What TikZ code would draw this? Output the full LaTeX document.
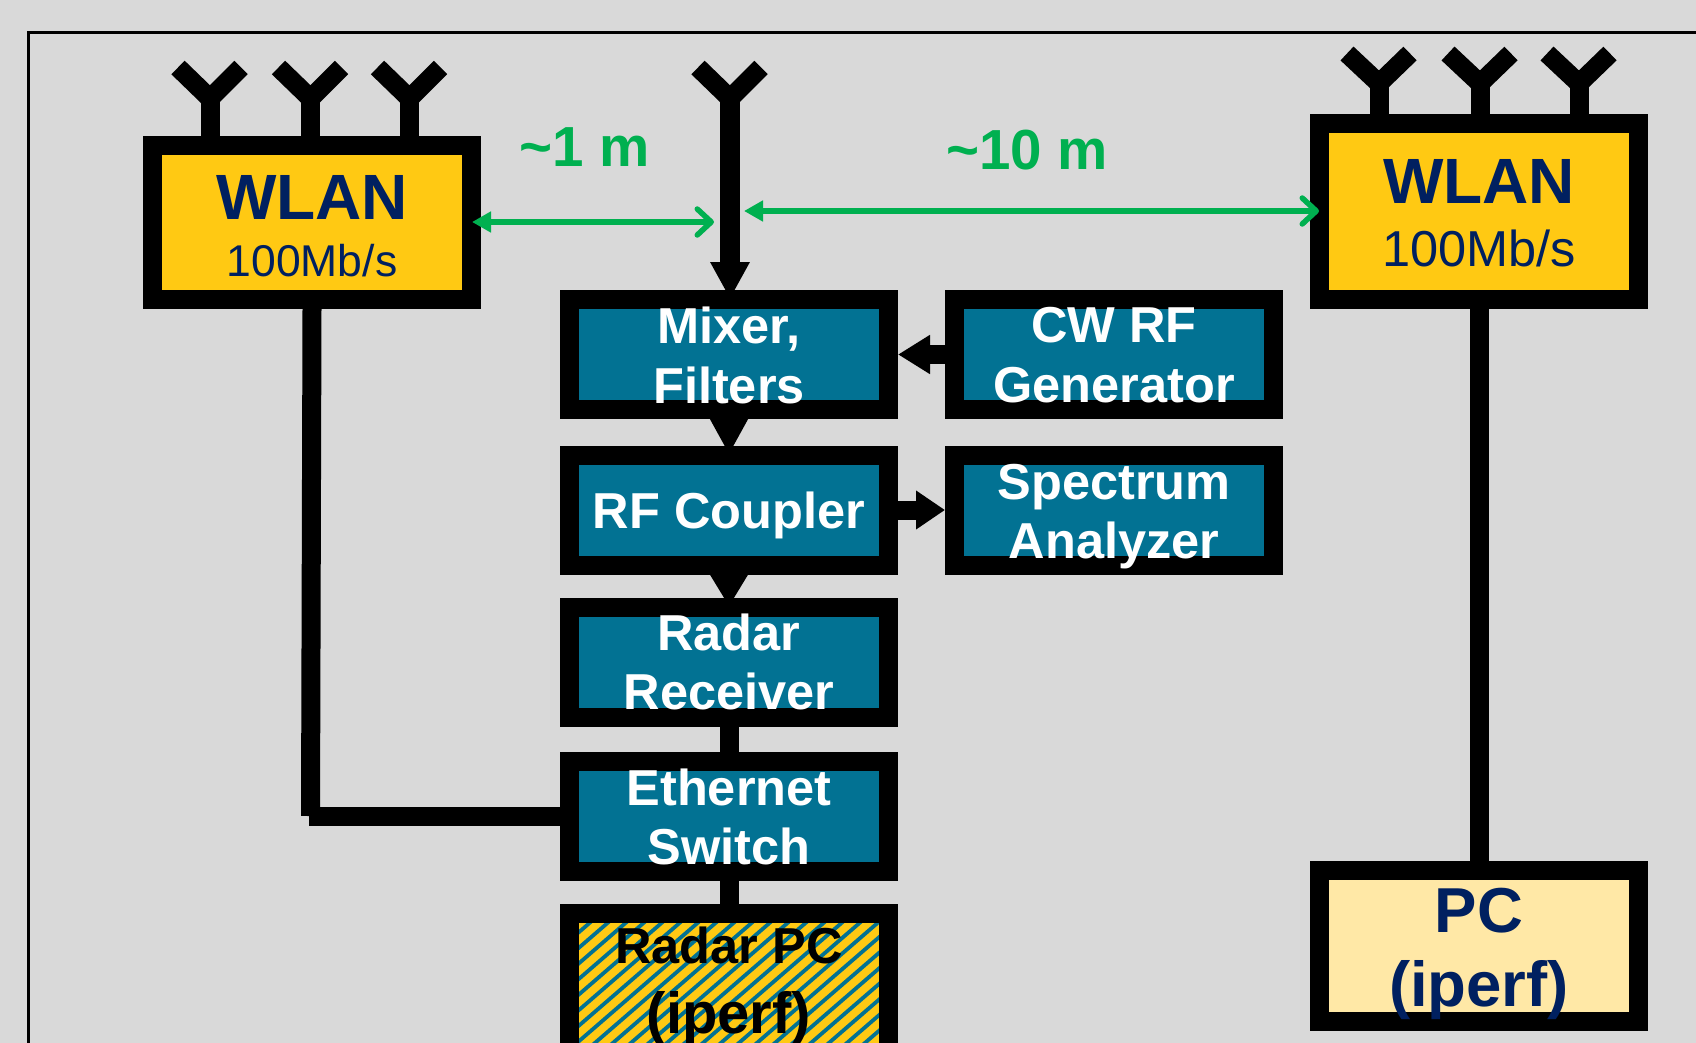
\documentclass[tikz,border=0pt]{standalone}
\usepackage{fontspec}
\setmainfont{Liberation Sans}
\usetikzlibrary{arrows.meta}
\definecolor{bggrey}{HTML}{D9D9D9}
\definecolor{wlanyellow}{HTML}{FFC913}
\definecolor{blockteal}{HTML}{027293}
\definecolor{pccream}{HTML}{FFE8A6}
\definecolor{navytext}{HTML}{002060}
\definecolor{rangegreen}{HTML}{00B050}
\newcommand{\fsz}[1]{\fontsize{#1}{59}\selectfont}
\newcommand{\fszb}[2]{\fontsize{#1}{#2}\selectfont}
\newcommand{\twolines}[2]{\setlength{\tabcolsep}{0pt}\begin{tabular}[t]{@{}c@{}}#1\\#2\end{tabular}}
\tikzset{
  x=1pt,y=-1pt,
  blockbox/.style={draw=black,line width=19,rectangle,inner sep=0,minimum width=319,minimum height=110,fill=blockteal},
  wlanbox/.style={blockbox,fill=wlanyellow},
  antenna/.style={draw=black,line width=19,miter limit=10},
  link/.style={draw=black,line width=19},
  headlink/.style={draw=black,line width=19,-{Triangle[length=#1,width=37]}},
  headlink/.default=30,
  rangearrow/.style={draw=rangegreen,line width=5.5,{Triangle[length=19,width=20]}-{Straight Barb[round,length=14,width=26,line width=5.5]}},
  labelwhite/.style={anchor=base,inner sep=0,text=white,font=\fsz{50.5}\bfseries},
  labelnavy/.style={anchor=base,inner sep=0,text=navytext},
  labelgreen/.style={anchor=base,inner sep=0,text=rangegreen,font=\fsz{56.5}\bfseries},
}
\begin{document}
\begin{tikzpicture}
\useasboundingbox (0,0) rectangle (1696,1043);
\fill[bggrey] (0,0) rectangle (1696,1043);
\draw[black,line width=3] (28.5,32.5) rectangle (1800,1200);

% boxes
\node[wlanbox,minimum height=154] (wlanA) at (312,222.5) {};
\node[wlanbox,minimum height=176] (wlanB) at (1479,211.5) {};
\node[blockbox] (mixer) at (729,354.5) {};
\node[blockbox] (coupler) at (729,510) {};
\node[blockbox] (receiver) at (729,662) {};
\node[blockbox] (switch) at (729,816) {};
\node[blockbox] (cwgen) at (1114,354.5) {};
\node[blockbox] (analyzer) at (1114,510) {};
\node[blockbox,minimum height=151,fill=pccream] (pc) at (1479,946) {};
\node[blockbox,minimum height=167,fill=wlanyellow,
  path picture={
    \foreach \k in {-30,...,40}{
      \draw[blockteal,line width=3.8]
        ([xshift=\k*18]path picture bounding box.south west) -- ++(260,-225);
    }
  }] (radarpc) at (729,997) {};

% antennas
\foreach \n/\px/\py/\tipdy in {a/210/98.5/31,b/310.5/98.5/31,c/409.5/98.5/31,d/730/98.5/31,e/1379/83.5/30,f/1480/83.5/30,g/1579/83.5/30}{
  \coordinate (\n J) at (\px,\py);
  \coordinate (\n L) at (\px-32,\py-\tipdy);
  \coordinate (\n R) at (\px+31,\py-\tipdy);
  \draw[antenna] (\n L) -- (\n J) -- (\n R);
}
\draw[link] (aJ) -- (aJ |- wlanA.north);
\draw[link] (bJ) -- (bJ |- wlanA.north);
\draw[link] (cJ) -- (cJ |- wlanA.north);
\draw[link] (eJ) -- (eJ |- wlanB.north);
\draw[link] (fJ) -- (fJ |- wlanB.north);
\draw[link] (gJ) -- (gJ |- wlanB.north);

% connectors
\draw[headlink=37,line width=20,shorten >=-9] (dJ) -- (dJ |- mixer.north);
\draw[headlink=37,shorten >=-9] (mixer.south) -- (coupler.north);
\draw[headlink=33,shorten >=-9] (coupler.south) -- (receiver.north);
\draw[link] (receiver.south) -- (switch.north);
\draw[link] (switch.south) -- (radarpc.north);
\draw[headlink=32] (cwgen.west) -- (mixer.east);
\draw[headlink=29] (coupler.east) -- (analyzer.west);
\coordinate (elbowA) at (310.5,816);
\coordinate (elbowB) at (309,816);
\draw[link] (wlanA.south) -- (elbowA);
\draw[link] (elbowB) -- (switch.west);
\draw[link] (wlanB.south) -- (pc.north);

% range arrows
\coordinate (rangeAa) at (472,222);
\coordinate (rangeAb) at (714,222);
\coordinate (rangeBa) at (744,211);
\coordinate (rangeBb) at (1319,211);
\draw[rangearrow] (rangeAa) -- (rangeAb);
\draw[rangearrow] (rangeBa) -- (rangeBb);

% texts
\node[labelgreen] (tA) at (585,167) {\textasciitilde 1 m};
\node[labelgreen] (tB) at (1027,170) {\textasciitilde 10 m};
\node[labelnavy] (tW1) at (312,219) {\fsz{64}\bfseries WLAN};
\node[labelnavy] (tW1r) at (312,276) {\fsz{44.5}100Mb/s};
\node[labelnavy] (tW2) at (1479,204) {\fsz{64}\bfseries WLAN};
\node[labelnavy] (tW2r) at (1479,266) {\fsz{50.5}100Mb/s};
\node[labelwhite] (tM) at (729,343) {\fszb{50.5}{60}\bfseries\twolines{Mixer,}{Filters}};
\node[labelwhite] (tCW) at (1114,342) {\fszb{50.5}{60}\bfseries\twolines{CW RF}{Generator}};
\node[labelwhite] (tRF) at (729,528) {RF Coupler};
\node[labelwhite] (tSA) at (1114,499) {\fsz{50.5}\bfseries\twolines{Spectrum}{Analyzer}};
\node[labelwhite] (tRR) at (729,650.5) {\fsz{50.5}\bfseries\twolines{Radar}{Receiver}};
\node[labelwhite] (tES) at (729,805) {\fsz{50.5}\bfseries\twolines{Ethernet}{Switch}};
\node[anchor=base,inner sep=0,text=black] (tPCa) at (729,963) {\fsz{50.5}\bfseries Radar PC};
\node[anchor=base,inner sep=0,text=black] (tPCb) at (729,1033) {\fsz{58}\bfseries (iperf)};
\begin{scope}
\clip (1310,861) rectangle (1648,1019);
\node[labelnavy] (tPa) at (1479,932) {\fsz{63.5}\bfseries PC};
\node[labelnavy] (tPb) at (1479,1006) {\fsz{63.5}\bfseries (iperf)};
\end{scope}
\end{tikzpicture}
\end{document}
